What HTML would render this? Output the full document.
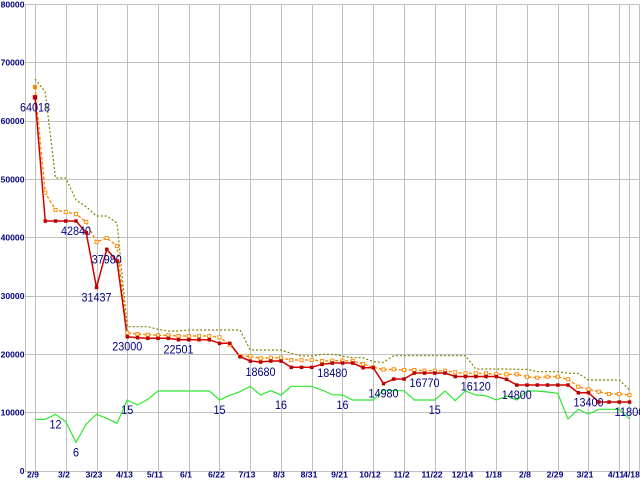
<!DOCTYPE html>
<html><head><meta charset="utf-8"><style>
html,body{margin:0;padding:0;background:#fff;}
svg{display:block;}
.yl{font-family:"Liberation Sans",sans-serif;font-size:8.6px;font-weight:bold;fill:#000080;}
.dl{font-family:"Liberation Sans",sans-serif;font-size:11.5px;fill:#000080;}
</style></head><body>
<svg width="640" height="480" viewBox="0 0 640 480" xmlns="http://www.w3.org/2000/svg">
<rect x="0" y="0" width="640" height="480" fill="#fff"/>
<g stroke="#c0c0c0" stroke-width="1" shape-rendering="crispEdges" fill="none">
<path d="M25 4.5H639M25 62.5H639M25 121.5H639M25 179.5H639M25 237.5H639M25 296.5H639M25 354.5H639M25 412.5H639M25 471.5H639"/>
<path d="M25.5 4V472M35.5 4V472M66.5 4V472M97.5 4V472M127.5 4V472M158.5 4V472M189.5 4V472M219.5 4V472M250.5 4V472M281.5 4V472M312.5 4V472M342.5 4V472M373.5 4V472M404.5 4V472M435.5 4V472M465.5 4V472M496.5 4V472M527.5 4V472M558.5 4V472M588.5 4V472M619.5 4V472M629.5 4V472M639.5 4V472"/>
</g>
<g class="yl" text-anchor="end">
<text x="24.5" y="7.5">80000</text>
<text x="24.5" y="65.5">70000</text>
<text x="24.5" y="124">60000</text>
<text x="24.5" y="182.5">50000</text>
<text x="24.5" y="240.5">40000</text>
<text x="24.5" y="299">30000</text>
<text x="24.5" y="357.5">20000</text>
<text x="24.5" y="415.5">10000</text>
<text x="24.5" y="474">0</text>
</g>
<g class="yl" text-anchor="middle">
<text x="33" y="477.5">2/9</text>
<text x="64" y="477.5">3/2</text>
<text x="94" y="477.5">3/23</text>
<text x="124.5" y="477.5">4/13</text>
<text x="155" y="477.5">5/11</text>
<text x="186" y="477.5">6/1</text>
<text x="216.5" y="477.5">6/22</text>
<text x="247" y="477.5">7/13</text>
<text x="279" y="477.5">8/3</text>
<text x="309" y="477.5">8/31</text>
<text x="339.5" y="477.5">9/21</text>
<text x="370" y="477.5">10/12</text>
<text x="401.5" y="477.5">11/2</text>
<text x="432" y="477.5">11/22</text>
<text x="462.5" y="477.5">12/14</text>
<text x="493.5" y="477.5">1/18</text>
<text x="525" y="477.5">2/8</text>
<text x="555" y="477.5">2/29</text>
<text x="585" y="477.5">3/21</text>
<text x="616" y="477.5">4/11</text>
<text x="631.5" y="477.5">4/18</text>
</g>
<!-- green -->
<polyline fill="none" stroke="#2ee82e" stroke-width="1.2" points="35,419.3 45.25,419.3 55.5,414.3 65.75,421.7 76,442.3 86.25,424 96.5,414.3 106.75,418.3 117,423.3 127.25,400 137.5,405 147.75,399.3 158,391 168.25,391 178.5,391 188.75,391 199,391 209.25,391 219.5,400 229.75,395.3 240,391.7 250.25,386.3 260.5,395 270.75,390.7 281,395 291.25,386.3 301.5,386.3 311.75,386.3 322,390 332.25,394.7 342.5,395 352.75,400 363,400 373.25,400 383.5,390 393.75,390.7 404,390.7 414.25,400 424.5,400 434.75,400 445,391 455.25,400.7 465.5,391 475.75,395 486,395.7 496.25,400 506.5,396 516.75,400 527,391 537.25,391 547.5,392 557.75,393.3 568,419 578.25,409.3 588.5,414 598.75,409.3 609,409.3 619.25,409.3 629.5,419"/>
<!-- olive dotted -->
<polyline fill="none" stroke="#808000" stroke-width="1.2" stroke-dasharray="2,2" points="35,79 45.25,92 55.5,178 65.75,178 76,200 86.25,206.7 96.5,216 106.75,216 117,223 127.25,326.7 137.5,326.7 147.75,326.7 158,329.3 168.25,331 178.5,331 188.75,330 199,330 209.25,330 219.5,330 229.75,330 240,330 250.25,350 260.5,350 270.75,350 281,350 291.25,353.3 301.5,356 311.75,356 322,354.3 332.25,354.3 342.5,356 352.75,357.7 363,357.7 373.25,361.7 383.5,362.3 393.75,355.7 404,355.7 414.25,355.7 424.5,355.7 434.75,355.7 445,355.7 455.25,355.7 465.5,355.7 475.75,369 486,369 496.25,369 506.5,369 516.75,369.3 527,369.3 537.25,371.7 547.5,371.7 557.75,371.7 568,373.3 578.25,373.3 588.5,380 598.75,380 609,380 619.25,380 629.5,390"/>
<!-- orange dashed -->
<polyline fill="none" stroke="#ff8800" stroke-width="1.4" stroke-dasharray="3,2" points="35,87 45.25,192.7 55.5,210 65.75,212 76,214 86.25,222 96.5,242 106.75,238 117,246 127.25,332.7 137.5,334 147.75,334.7 158,335.3 168.25,335.3 178.5,336 188.75,336 199,336 209.25,336 219.5,337.3 229.75,344.7 240,356 250.25,356.3 260.5,358.3 270.75,357.7 281,357.7 291.25,360 301.5,360 311.75,360 322,361 332.25,360.7 342.5,360.7 352.75,361 363,364 373.25,367.3 383.5,369.5 393.75,369.3 404,370 414.25,370 424.5,370.7 434.75,370.7 445,370.7 455.25,372.3 465.5,373.3 475.75,373.3 486,373.3 496.25,374.3 506.5,374.3 516.75,374.3 527,376.7 537.25,377.7 547.5,376.7 557.75,376.7 568,379.3 578.25,386.7 588.5,389.3 598.75,391.7 609,394 619.25,394 629.5,395"/>
<!-- red -->
<polyline fill="none" stroke="#d00000" stroke-width="1.5" points="35,97.3 45.25,221 55.5,221 65.75,221 76,221 86.25,232.7 96.5,287.5 106.75,249.3 117,261 127.25,336.7 137.5,337.7 147.75,338.3 158,338.3 168.25,338.3 178.5,339.7 188.75,339.7 199,339.7 209.25,339.7 219.5,343.3 229.75,343.3 240,356.7 250.25,361 260.5,362 270.75,361 281,361 291.25,367.3 301.5,367.3 311.75,367.3 322,364.3 332.25,363 342.5,363 352.75,363 363,367.7 373.25,367.7 383.5,383.6 393.75,379 404,379 414.25,373 424.5,373 434.75,373 445,373 455.25,376.5 465.5,376.5 475.75,376.5 486,376.5 496.25,376.5 506.5,379.3 516.75,385 527,385 537.25,385 547.5,385 557.75,385 568,385 578.25,392.7 588.5,392.7 598.75,402 609,402 619.25,402 629.5,402"/>
<!-- labels -->
<g class="dl" text-anchor="middle">
<text x="35" y="111.3" textLength="30" lengthAdjust="spacingAndGlyphs">64018</text>
<text x="76" y="235" textLength="30" lengthAdjust="spacingAndGlyphs">42840</text>
<text x="96.5" y="301.5" textLength="30" lengthAdjust="spacingAndGlyphs">31437</text>
<text x="106.75" y="263.3" textLength="30" lengthAdjust="spacingAndGlyphs">37980</text>
<text x="127.25" y="350.7" textLength="30" lengthAdjust="spacingAndGlyphs">23000</text>
<text x="178.5" y="353.7" textLength="30" lengthAdjust="spacingAndGlyphs">22501</text>
<text x="260.5" y="376" textLength="30" lengthAdjust="spacingAndGlyphs">18680</text>
<text x="332.25" y="377" textLength="30" lengthAdjust="spacingAndGlyphs">18480</text>
<text x="383.5" y="397.6" textLength="30" lengthAdjust="spacingAndGlyphs">14980</text>
<text x="424.5" y="387" textLength="30" lengthAdjust="spacingAndGlyphs">16770</text>
<text x="475.75" y="390.5" textLength="30" lengthAdjust="spacingAndGlyphs">16120</text>
<text x="516.75" y="399" textLength="30" lengthAdjust="spacingAndGlyphs">14800</text>
<text x="588.5" y="406.7" textLength="30" lengthAdjust="spacingAndGlyphs">13400</text>
<text x="629.5" y="416" textLength="30" lengthAdjust="spacingAndGlyphs">11800</text>
<text x="55.5" y="428.3" textLength="12" lengthAdjust="spacingAndGlyphs">12</text>
<text x="76" y="456.3" textLength="6" lengthAdjust="spacingAndGlyphs">6</text>
<text x="127.25" y="414" textLength="12" lengthAdjust="spacingAndGlyphs">15</text>
<text x="219.5" y="414" textLength="12" lengthAdjust="spacingAndGlyphs">15</text>
<text x="281" y="409" textLength="12" lengthAdjust="spacingAndGlyphs">16</text>
<text x="342.5" y="409" textLength="12" lengthAdjust="spacingAndGlyphs">16</text>
<text x="434.75" y="414" textLength="12" lengthAdjust="spacingAndGlyphs">15</text>
</g>
<!-- orange markers -->
<g fill="#fff" stroke="#ff8800" stroke-width="0.9" transform="translate(0.4,0.4)">
<rect x="33" y="85" width="3.2" height="3.2" fill="#ff8800"/>
<rect x="43.25" y="190.7" width="3.2" height="3.2"/><rect x="53.5" y="208" width="3.2" height="3.2"/><rect x="63.75" y="210" width="3.2" height="3.2"/><rect x="74" y="212" width="3.2" height="3.2"/><rect x="84.25" y="220" width="3.2" height="3.2"/><rect x="94.5" y="240" width="3.2" height="3.2"/><rect x="104.75" y="236" width="3.2" height="3.2"/><rect x="115" y="244" width="3.2" height="3.2"/><rect x="125.25" y="330.7" width="3.2" height="3.2"/><rect x="135.5" y="332" width="3.2" height="3.2"/><rect x="145.75" y="332.7" width="3.2" height="3.2"/><rect x="156" y="333.3" width="3.2" height="3.2"/><rect x="166.25" y="333.3" width="3.2" height="3.2"/><rect x="176.5" y="334" width="3.2" height="3.2"/><rect x="186.75" y="334" width="3.2" height="3.2"/><rect x="197" y="334" width="3.2" height="3.2"/><rect x="207.25" y="334" width="3.2" height="3.2"/><rect x="217.5" y="335.3" width="3.2" height="3.2"/><rect x="227.75" y="342.7" width="3.2" height="3.2"/><rect x="238" y="354" width="3.2" height="3.2"/><rect x="248.25" y="354.3" width="3.2" height="3.2"/><rect x="258.5" y="356.3" width="3.2" height="3.2"/><rect x="268.75" y="355.7" width="3.2" height="3.2"/><rect x="279" y="355.7" width="3.2" height="3.2"/><rect x="289.25" y="358" width="3.2" height="3.2"/><rect x="299.5" y="358" width="3.2" height="3.2"/><rect x="309.75" y="358" width="3.2" height="3.2"/><rect x="320" y="359" width="3.2" height="3.2"/><rect x="330.25" y="358.7" width="3.2" height="3.2"/><rect x="340.5" y="358.7" width="3.2" height="3.2"/><rect x="350.75" y="359" width="3.2" height="3.2"/><rect x="361" y="362" width="3.2" height="3.2"/><rect x="371.25" y="365.3" width="3.2" height="3.2"/><rect x="381.5" y="367.5" width="3.2" height="3.2"/><rect x="391.75" y="367.3" width="3.2" height="3.2"/><rect x="402" y="368" width="3.2" height="3.2"/><rect x="412.25" y="368" width="3.2" height="3.2"/><rect x="422.5" y="368.7" width="3.2" height="3.2"/><rect x="432.75" y="368.7" width="3.2" height="3.2"/><rect x="443" y="368.7" width="3.2" height="3.2"/><rect x="453.25" y="370.3" width="3.2" height="3.2"/><rect x="463.5" y="371.3" width="3.2" height="3.2"/><rect x="473.75" y="371.3" width="3.2" height="3.2"/><rect x="484" y="371.3" width="3.2" height="3.2"/><rect x="494.25" y="372.3" width="3.2" height="3.2"/><rect x="504.5" y="372.3" width="3.2" height="3.2"/><rect x="514.75" y="372.3" width="3.2" height="3.2"/><rect x="525" y="374.7" width="3.2" height="3.2"/><rect x="535.25" y="375.7" width="3.2" height="3.2"/><rect x="545.5" y="374.7" width="3.2" height="3.2"/><rect x="555.75" y="374.7" width="3.2" height="3.2"/><rect x="566" y="377.3" width="3.2" height="3.2"/><rect x="576.25" y="384.7" width="3.2" height="3.2"/><rect x="586.5" y="387.3" width="3.2" height="3.2"/><rect x="596.75" y="389.7" width="3.2" height="3.2"/><rect x="607" y="392" width="3.2" height="3.2"/><rect x="617.25" y="392" width="3.2" height="3.2"/><rect x="627.5" y="393" width="3.2" height="3.2"/>
</g>
<!-- red markers -->
<g fill="#bb0000" transform="translate(0.3,0.3)">
<rect x="32.5" y="94.8" width="4.4" height="4.4"/>
<rect x="43.25" y="219" width="3.5" height="3.5"/><rect x="53.5" y="219" width="3.5" height="3.5"/><rect x="63.75" y="219" width="3.5" height="3.5"/><rect x="74" y="219" width="3.5" height="3.5"/><rect x="84.25" y="230.7" width="3.5" height="3.5"/><rect x="94.5" y="285.5" width="3.5" height="3.5"/><rect x="104.75" y="247.3" width="3.5" height="3.5"/><rect x="115" y="259" width="3.5" height="3.5"/><rect x="125.25" y="334.7" width="3.5" height="3.5"/><rect x="135.5" y="335.7" width="3.5" height="3.5"/><rect x="145.75" y="336.3" width="3.5" height="3.5"/><rect x="156" y="336.3" width="3.5" height="3.5"/><rect x="166.25" y="336.3" width="3.5" height="3.5"/><rect x="176.5" y="337.7" width="3.5" height="3.5"/><rect x="186.75" y="337.7" width="3.5" height="3.5"/><rect x="197" y="337.7" width="3.5" height="3.5"/><rect x="207.25" y="337.7" width="3.5" height="3.5"/><rect x="217.5" y="341.3" width="3.5" height="3.5"/><rect x="227.75" y="341.3" width="3.5" height="3.5"/><rect x="238" y="354.7" width="3.5" height="3.5"/><rect x="248.25" y="359" width="3.5" height="3.5"/><rect x="258.5" y="360" width="3.5" height="3.5"/><rect x="268.75" y="359" width="3.5" height="3.5"/><rect x="279" y="359" width="3.5" height="3.5"/><rect x="289.25" y="365.3" width="3.5" height="3.5"/><rect x="299.5" y="365.3" width="3.5" height="3.5"/><rect x="309.75" y="365.3" width="3.5" height="3.5"/><rect x="320" y="362.3" width="3.5" height="3.5"/><rect x="330.25" y="361" width="3.5" height="3.5"/><rect x="340.5" y="361" width="3.5" height="3.5"/><rect x="350.75" y="361" width="3.5" height="3.5"/><rect x="361" y="365.7" width="3.5" height="3.5"/><rect x="371.25" y="365.7" width="3.5" height="3.5"/><rect x="381.5" y="381.6" width="3.5" height="3.5"/><rect x="391.75" y="377" width="3.5" height="3.5"/><rect x="402" y="377" width="3.5" height="3.5"/><rect x="412.25" y="371" width="3.5" height="3.5"/><rect x="422.5" y="371" width="3.5" height="3.5"/><rect x="432.75" y="371" width="3.5" height="3.5"/><rect x="443" y="371" width="3.5" height="3.5"/><rect x="453.25" y="374.5" width="3.5" height="3.5"/><rect x="463.5" y="374.5" width="3.5" height="3.5"/><rect x="473.75" y="374.5" width="3.5" height="3.5"/><rect x="484" y="374.5" width="3.5" height="3.5"/><rect x="494.25" y="374.5" width="3.5" height="3.5"/><rect x="504.5" y="377.3" width="3.5" height="3.5"/><rect x="514.75" y="383" width="3.5" height="3.5"/><rect x="525" y="383" width="3.5" height="3.5"/><rect x="535.25" y="383" width="3.5" height="3.5"/><rect x="545.5" y="383" width="3.5" height="3.5"/><rect x="555.75" y="383" width="3.5" height="3.5"/><rect x="566" y="383" width="3.5" height="3.5"/><rect x="576.25" y="390.7" width="3.5" height="3.5"/><rect x="586.5" y="390.7" width="3.5" height="3.5"/><rect x="596.75" y="400" width="3.5" height="3.5"/><rect x="607" y="400" width="3.5" height="3.5"/><rect x="617.25" y="400" width="3.5" height="3.5"/><rect x="627.5" y="400" width="3.5" height="3.5"/>
</g>
</svg>
</body></html>
